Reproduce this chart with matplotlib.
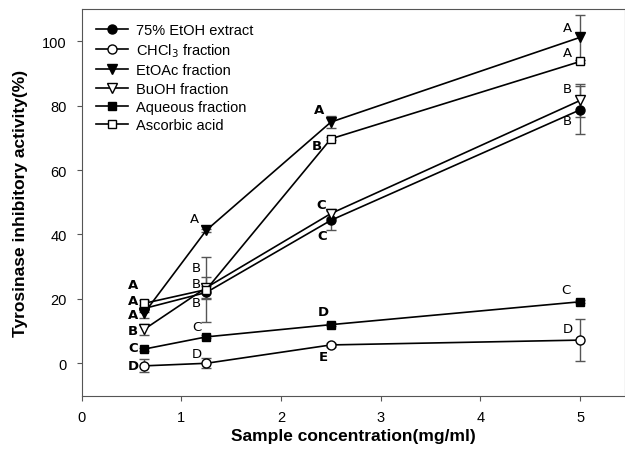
import matplotlib
matplotlib.use("Agg")
import matplotlib.pyplot as plt

conc = [0.625, 1.25, 2.5, 5]

names = ["75% EtOH extract", "CHCl$_3$ fraction", "EtOAc fraction",
         "BuOH fraction", "Aqueous fraction", "Ascorbic acid"]
etoh = [17.0, 22.0, 44.4, 78.7]
chcl3 = [-0.8, 0.0, 5.7, 7.2]
etoac = [15.5, 41.3, 74.9, 101.2]
buoh = [10.5, 23.5, 46.5, 81.6]
aqueous = [4.4, 8.2, 12.0, 19.1]
ascorbic = [18.6, 22.9, 69.7, 93.7]

etoh_err = [1.0, 2.0, 3.0, 7.5]
chcl3_err = [2.0, 1.5, 0.5, 6.5]
etoac_err = [1.5, 0.5, 2.0, 7.0]
buoh_err = [1.8, 3.3, 1.5, 5.0]
aqueous_err = [0.5, 0.5, 0.5, 0.5]
ascorbic_err = [1.0, 10.0, 0.5, 0.5]

etoh_lab = ["A", "B", "C", "B"]
chcl3_lab = ["D", "D", "E", "D"]
etoac_lab = ["A", "A", "A", "A"]
buoh_lab = ["B", "B", "C", "B"]
aqueous_lab = ["C", "C", "D", "C"]
ascorbic_lab = ["A", "B", "B", "A"]

# label offsets in pixels (dx, dy) for each point
etoh_off = [(-11, 8), (-10, -10), (-9, -15), (-13, -11)]
chcl3_off = [(-11, 0), (-9, 10), (-8, -12), (-12, 12)]
etoac_off = [(-11, -1.5), (-12, 12), (-12, 13), (-13, 10)]
buoh_off = [(-11, -1), (-10, 4), (-10, 9), (-13, 12)]
aqueous_off = [(-11, 2), (-9, 10), (-8, 13), (-14, 12)]
ascorbic_off = [(-11, 18.5), (-10, 22), (-14, -7), (-13, 9)]

values = [etoh, chcl3, etoac, buoh, aqueous, ascorbic]
errs = [etoh_err, chcl3_err, etoac_err, buoh_err, aqueous_err, ascorbic_err]
labs = [etoh_lab, chcl3_lab, etoac_lab, buoh_lab, aqueous_lab, ascorbic_lab]
offs = [etoh_off, chcl3_off, etoac_off, buoh_off, aqueous_off, ascorbic_off]
markers = ["o", "o", "v", "v", "s", "s"]
faces = ["black", "white", "black", "white", "black", "white"]
sizes = [6.5, 6.5, 6.5, 6.5, 6, 6]
bold_idx = [0, 2]

fig = plt.figure(figsize=(6.25, 4.52), dpi=100)
ax = fig.add_axes([81.7 / 625, (452 - 396.5) / 452, (625 - 81.7) / 625, 386.5 / 452])

for v, e, m, f, s, n in zip(values, errs, markers, faces, sizes, names):
    ax.errorbar(conc, v, yerr=e, fmt="none", ecolor="#555555", elinewidth=1.0,
                capsize=3.5, capthick=1.0, zorder=2)
    ax.plot(conc, v, color="black", lw=1.2, marker=m, markerfacecolor=f,
            markeredgecolor="black", markersize=s, markeredgewidth=1.0,
            label=n, zorder=3)

for v, lb, of in zip(values, labs, offs):
    for i, (x, y) in enumerate(zip(conc, v)):
        ax.annotate(lb[i], (x, y), xytext=of[i], textcoords="offset pixels",
                    ha="center", va="center", fontsize=9.5,
                    fontweight="bold" if i in bold_idx else "normal",
                    family="DejaVu Sans", zorder=4)

ax.set_xlim(0, 5.45)
ax.set_ylim(-10, 110)
ax.set_xticks([0, 1, 2, 3, 4, 5])
ax.set_yticks([0, 20, 40, 60, 80, 100])
ax.tick_params(direction="out", length=3.6, color="#555555", labelsize=10.5, pad=7)
for lbl in ax.get_xticklabels() + ax.get_yticklabels():
    lbl.set_family("Liberation Sans")
for sp in ax.spines.values():
    sp.set_color("#555555")

ax.set_xlabel("Sample concentration(mg/ml)", fontsize=12.5, fontweight="bold",
              family="Liberation Sans", labelpad=3)
ax.set_ylabel("Tyrosinase inhibitory activity(%)", fontsize=12.5, fontweight="bold",
              family="Liberation Sans", labelpad=10)

leg = ax.legend(loc="upper left", frameon=False, handlelength=2.2,
                labelspacing=0.3, borderaxespad=0.55, handletextpad=0.6,
                prop={"family": "Liberation Sans", "size": 10.5})

fig.savefig("out.png", dpi=100)
